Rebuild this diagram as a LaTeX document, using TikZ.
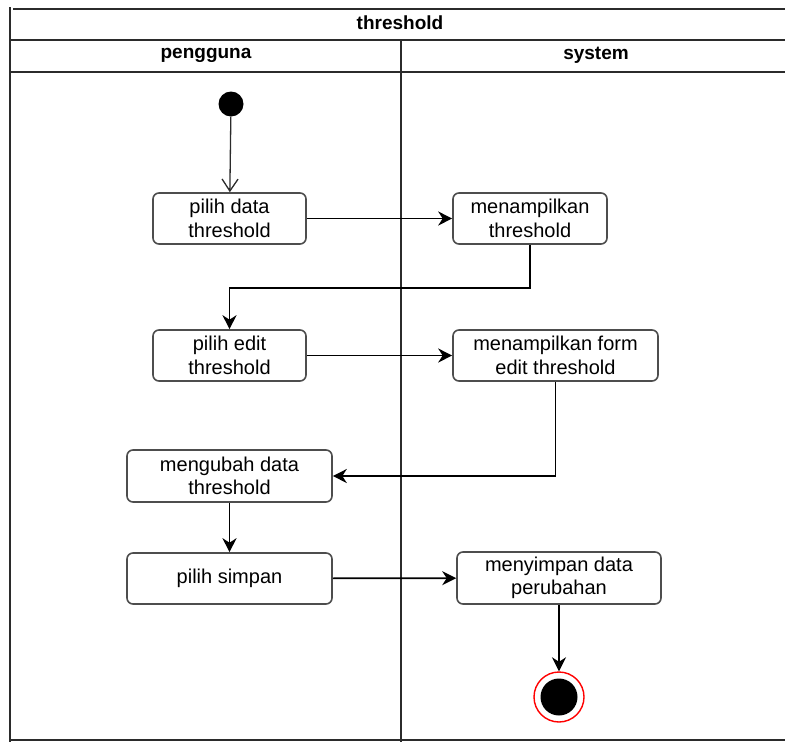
\documentclass[tikz,border=0pt]{standalone}
\usepackage{fontspec}
\setmainfont{Liberation Sans}
\usetikzlibrary{arrows.meta}
\definecolor{frame}{HTML}{2B2B2B}
\definecolor{boxline}{HTML}{4D4D4D}
\tikzset{
  act/.style={draw=boxline, line width=1.6pt, rounded corners=6pt, fill=white,
    align=center, inner sep=0pt, font=\fontsize{20}{23.5}\selectfont},
  conn/.style={draw=black, line width=1.7pt, -{Stealth[length=14pt,width=14pt,inset=4.5pt]}},
  lane/.style={draw=frame, line width=2.8pt},
  hdr/.style={font=\fontsize{19}{22}\selectfont\bfseries, inner sep=0pt}
}
\begin{document}
\begin{tikzpicture}[x=1pt,y=-1pt]
\useasboundingbox (0,0) rectangle (785,742);
% frame
\draw[lane] (13,9) -- (785,9);
\draw[lane] (10,7) -- (10,742);
\draw[lane] (10,40) -- (785,40);
\draw[lane] (10,72) -- (785,72);
\draw[lane] (10,740) -- (785,740);
\draw[lane] (401,40) -- (401,742);
\node[hdr] (title) at (400,23) {threshold};
\node[hdr] (lane1) at (206,55) {pengguna};
\node[hdr] (lane2) at (596,55) {system};
% start
\node[circle, fill=black, minimum size=25pt, inner sep=0pt] (start) at (231,104) {};
% activities
\node[act, minimum width=153pt, minimum height=51pt] (b1) at (229.5,218.5) {pilih data\\threshold};
\node[act, minimum width=154pt, minimum height=51pt] (b2) at (530,218.5) {menampilkan\\threshold};
\node[act, minimum width=153pt, minimum height=51pt] (b3) at (229.5,355.5) {pilih edit\\threshold};
\node[act, minimum width=205pt, minimum height=51pt] (b4) at (555.5,355.5) {menampilkan form\\edit threshold};
\node[act, minimum width=205pt, minimum height=52pt] (b5) at (229.5,476) {mengubah data\\threshold};
\node[act, minimum width=205pt, minimum height=51pt] (b6) at (229.5,578.5) {pilih simpan};
\node[act, minimum width=204pt, minimum height=52pt] (b7) at (559,578) {menyimpan data\\perubahan};
% end
\node[circle, draw=red, line width=1.4pt, fill=white, minimum size=50pt, inner sep=0pt] (end) at (559,697) {};
\node[circle, fill=black, minimum size=37pt, inner sep=0pt] (endin) at (559,697) {};
% connectors
\draw[line width=1.3pt, draw=frame, -{Straight Barb[length=12pt,width=16pt]}] (start) -- (b1);
\draw[conn] (b1) -- (b2);
\draw[conn] (b2.south) -- ++(0,43) -| (b3.north);
\draw[conn] (b3) -- (b4);
\draw[conn] (b4.south) |- (b5.east);
\draw[conn] (b5) -- (b6);
\draw[conn] (b6) -- (b7);
\draw[conn] (b7) -- (end);
\end{tikzpicture}
\end{document}
